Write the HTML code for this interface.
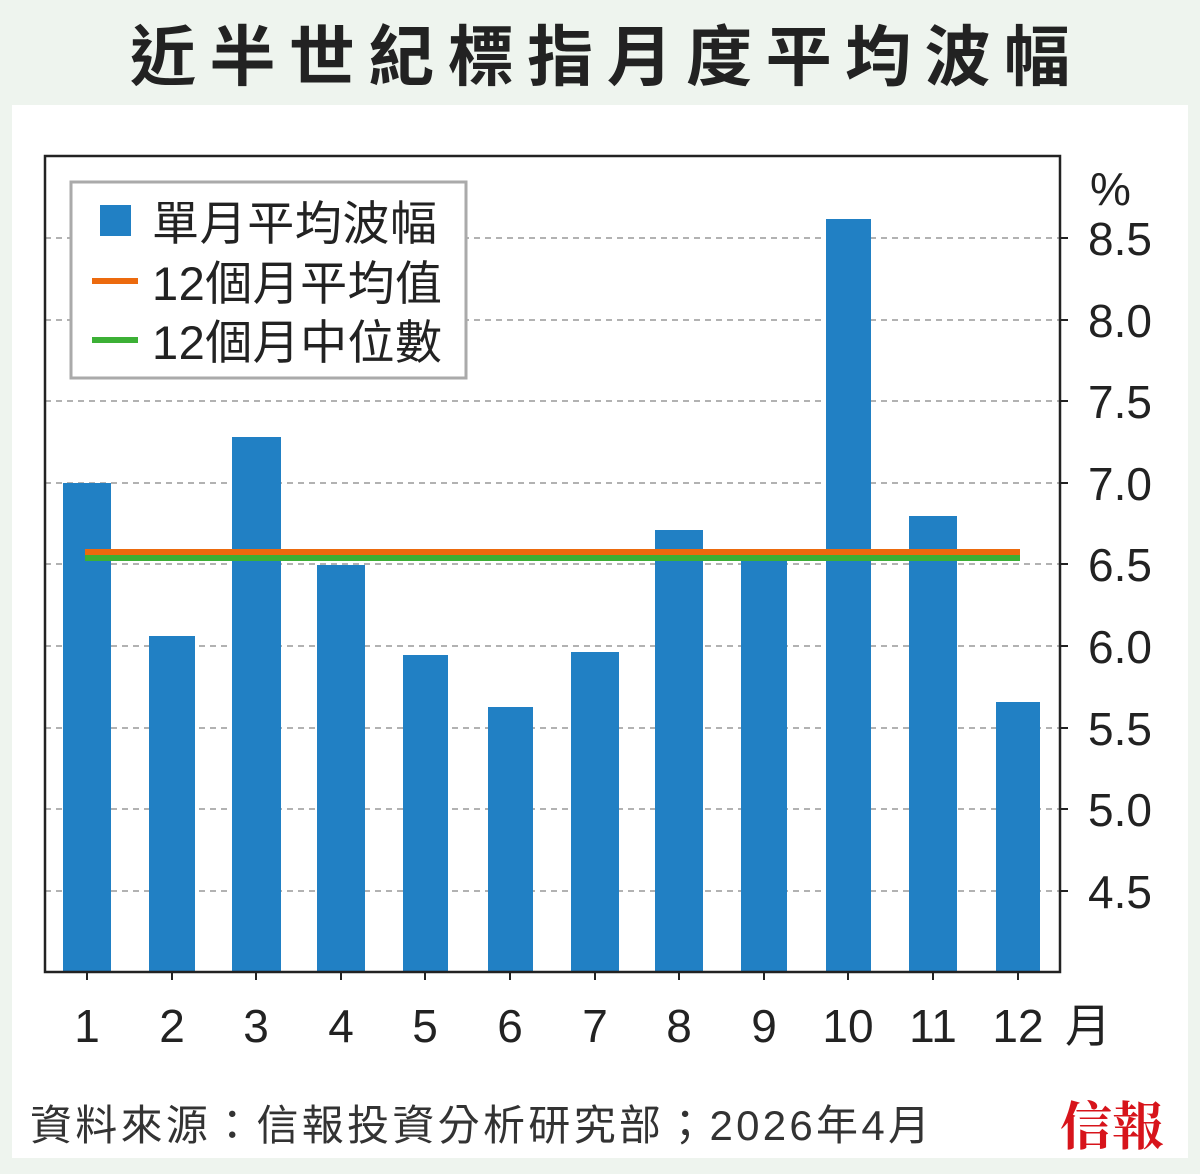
<!DOCTYPE html>
<html><head><meta charset="utf-8"><style>
body{margin:0;background:#eef4ee;}
svg{display:block}
text{font-family:"Liberation Sans","Noto Sans CJK TC",sans-serif;}
</style></head><body>
<svg width="1200" height="1174" viewBox="0 0 1200 1174" xmlns="http://www.w3.org/2000/svg">
<rect x="0" y="0" width="1200" height="1174" fill="#eef4ee"/>
<text x="600" y="80" font-size="66" font-weight="bold" text-anchor="middle" fill="#222" textLength="940" lengthAdjust="spacing" style="font-family:'Noto Sans CJK TC',sans-serif">近半世紀標指月度平均波幅</text>
<rect x="12" y="105" width="1176" height="1053" fill="#fff"/>
<g stroke="#999" stroke-width="1.5" stroke-dasharray="6,5">
<line x1="45" x2="1060" y1="238" y2="238"/><line x1="45" x2="1060" y1="320" y2="320"/>
<line x1="45" x2="1060" y1="401" y2="401"/><line x1="45" x2="1060" y1="483" y2="483"/>
<line x1="45" x2="1060" y1="564" y2="564"/><line x1="45" x2="1060" y1="646" y2="646"/>
<line x1="45" x2="1060" y1="728" y2="728"/><line x1="45" x2="1060" y1="809" y2="809"/>
<line x1="45" x2="1060" y1="891" y2="891"/>
</g>
<g fill="#2180c4">
<rect x="63" y="483" width="48" height="489"/>
<rect x="149" y="636" width="46" height="336"/>
<rect x="232" y="437" width="49" height="535"/>
<rect x="317" y="565" width="48" height="407"/>
<rect x="403" y="655" width="45" height="317"/>
<rect x="488" y="707" width="45" height="265"/>
<rect x="571" y="652" width="48" height="320"/>
<rect x="655" y="530" width="48" height="442"/>
<rect x="741" y="561" width="46" height="411"/>
<rect x="826" y="219" width="45" height="753"/>
<rect x="909" y="516" width="48" height="456"/>
<rect x="996" y="702" width="44" height="270"/>
</g>
<rect x="85" y="549" width="935" height="6" fill="#ec6a0e"/>
<rect x="85" y="555" width="935" height="6" fill="#3cb035"/>
<rect x="45" y="156" width="1015" height="816" fill="none" stroke="#222" stroke-width="2.5"/>
<g stroke="#222" stroke-width="2">
<line x1="1060" x2="1068" y1="238" y2="238"/><line x1="1060" x2="1068" y1="320" y2="320"/>
<line x1="1060" x2="1068" y1="401" y2="401"/><line x1="1060" x2="1068" y1="483" y2="483"/>
<line x1="1060" x2="1068" y1="564" y2="564"/><line x1="1060" x2="1068" y1="646" y2="646"/>
<line x1="1060" x2="1068" y1="728" y2="728"/><line x1="1060" x2="1068" y1="809" y2="809"/>
<line x1="1060" x2="1068" y1="891" y2="891"/>
<line x1="87" x2="87" y1="972" y2="980"/><line x1="172" x2="172" y1="972" y2="980"/>
<line x1="256" x2="256" y1="972" y2="980"/><line x1="341" x2="341" y1="972" y2="980"/>
<line x1="425" x2="425" y1="972" y2="980"/><line x1="510" x2="510" y1="972" y2="980"/>
<line x1="595" x2="595" y1="972" y2="980"/><line x1="679" x2="679" y1="972" y2="980"/>
<line x1="764" x2="764" y1="972" y2="980"/><line x1="848" x2="848" y1="972" y2="980"/>
<line x1="933" x2="933" y1="972" y2="980"/><line x1="1018" x2="1018" y1="972" y2="980"/>
</g>
<g font-size="46" fill="#222">
<text x="1090" y="205">%</text>
<text x="1088" y="255">8.5</text><text x="1088" y="337">8.0</text>
<text x="1088" y="418">7.5</text><text x="1088" y="500">7.0</text>
<text x="1088" y="581">6.5</text><text x="1088" y="663">6.0</text>
<text x="1088" y="745">5.5</text><text x="1088" y="826">5.0</text>
<text x="1088" y="908">4.5</text>
</g>
<g font-size="46" fill="#222" text-anchor="middle">
<text x="87" y="1042">1</text><text x="172" y="1042">2</text><text x="256" y="1042">3</text>
<text x="341" y="1042">4</text><text x="425" y="1042">5</text><text x="510" y="1042">6</text>
<text x="595" y="1042">7</text><text x="679" y="1042">8</text><text x="764" y="1042">9</text>
<text x="848" y="1042">10</text><text x="933" y="1042">11</text><text x="1018" y="1042">12</text>
<text x="1088" y="1042">月</text>
</g>
<rect x="71" y="182" width="395" height="196" fill="#fff" stroke="#aaa" stroke-width="3"/>
<rect x="100" y="205" width="31" height="31" fill="#2180c4"/>
<rect x="92" y="278" width="46" height="6" fill="#ec6a0e"/>
<rect x="92" y="337" width="46" height="6" fill="#3cb035"/>
<g font-size="47" fill="#222">
<text x="152" y="240" textLength="285" lengthAdjust="spacing">單月平均波幅</text>
<text x="152" y="300" textLength="290" lengthAdjust="spacing">12個月平均值</text>
<text x="152" y="359" textLength="290" lengthAdjust="spacing">12個月中位數</text>
</g>
<text x="30" y="1140" font-size="42" fill="#333" textLength="900" lengthAdjust="spacing">資料來源：信報投資分析研究部；2026年4月</text>
<text x="1112" y="1145" font-size="52" font-weight="bold" fill="#d7141b" text-anchor="middle" style="font-family:'Noto Serif CJK SC',serif">信報</text>
</svg>
</body></html>
